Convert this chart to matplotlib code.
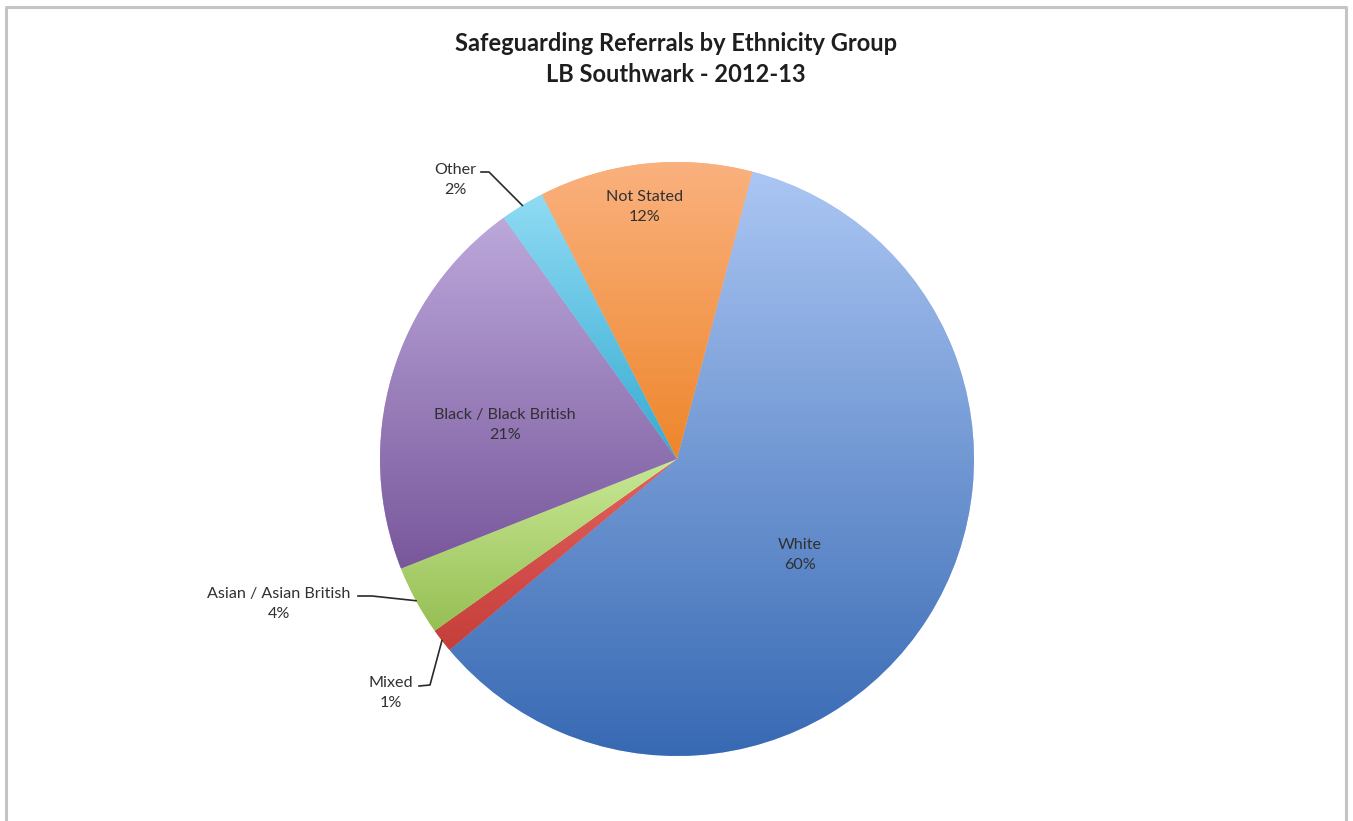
import matplotlib.pyplot as plt
import numpy as np
from matplotlib.colors import LinearSegmentedColormap
from matplotlib.lines import Line2D

plt.rcParams['font.family'] = ['Lato', 'DejaVu Sans']

groups = ['White', 'Mixed', 'Asian / Asian British', 'Black / Black British', 'Other', 'Not Stated']
shares = [59.8, 1.3, 3.8, 21.1, 2.4, 11.6]

# each slice is shaded from a light top colour to a darker bottom colour
light = ['#abc6f3', '#e3625e', '#c8e895', '#bca8db', '#90dbf3', '#fab17e']
dark = ['#3769b3', '#c53e3a', '#96bf54', '#78579b', '#36abd2', '#ee862b']

W, H = 1353, 821
cx, cy, r = 677, 459, 297

fig = plt.figure(figsize=(W / 100, H / 100), dpi=100)
ax = fig.add_axes([(cx - r) / W, (H - cy - r) / H, 2 * r / W, 2 * r / H])


def px(x, y):
    # pixel position -> pie data coordinates
    return (x - cx) / r, (cy - y) / r


wedges, _ = ax.pie(shares, startangle=90 - 14.7, counterclock=False, radius=1, colors=light)

grad = np.linspace(0, 1, 256).reshape(-1, 1)
for w, c0, c1 in zip(wedges, light, dark):
    w.set_edgecolor('none')
    b = w.get_path().get_extents()
    cmap = LinearSegmentedColormap.from_list('g', [c0, c1])
    im = ax.imshow(grad, cmap=cmap, extent=(b.x0, b.x1, b.y0, b.y1),
                   origin='upper', aspect='auto', interpolation='bilinear', zorder=2)
    im.set_clip_path(w)

ax.set_xlim(-1, 1)
ax.set_ylim(-1, 1)
ax.set_aspect('equal')
ax.axis('off')

# label centres (pixels) and leader lines for the small slices
label_pos = {
    'White': (800, 555),
    'Mixed': (391, 693),
    'Asian / Asian British': (279, 604),
    'Black / Black British': (505, 425),
    'Other': (455, 180),
    'Not Stated': (645, 207),
}
leaders = {
    'Other': [(481, 172), (489, 172)],
    'Asian / Asian British': [(358, 596), (372, 596)],
    'Mixed': [(419, 686), (430, 685)],
}

for w, name, val in zip(wedges, groups, shares):
    x, y = px(*label_pos[name])
    ax.text(x, y, f'{name}\n{val:.0f}%', ha='center', va='center',
            fontsize=11.6, color='#303030', linespacing=1.55, zorder=5)
    if name in leaders:
        mid = np.deg2rad((w.theta1 + w.theta2) / 2)
        pts = [px(*p) for p in leaders[name]] + [(np.cos(mid), np.sin(mid))]
        xs, ys = zip(*pts)
        ax.plot(xs, ys, color='#2a2a2a', lw=1.2, zorder=5, clip_on=False)

fig.text(676 / W, 1 - 59 / H, 'Safeguarding Referrals by Ethnicity Group\nLB Southwark - 2012-13',
         ha='center', va='center', fontsize=17, fontweight='bold', color='#1e1e1e', linespacing=1.38)

# chart area border (runs off the bottom edge)
frame = [(6, H + 5), (6, 7), (1346, 7), (1346, H + 5)]
fx = [p[0] / W for p in frame]
fy = [1 - p[1] / H for p in frame]
fig.add_artist(Line2D(fx, fy, color='#c4c4c4', lw=2.2, transform=fig.transFigure))

fig.savefig('out.png', dpi=100)
